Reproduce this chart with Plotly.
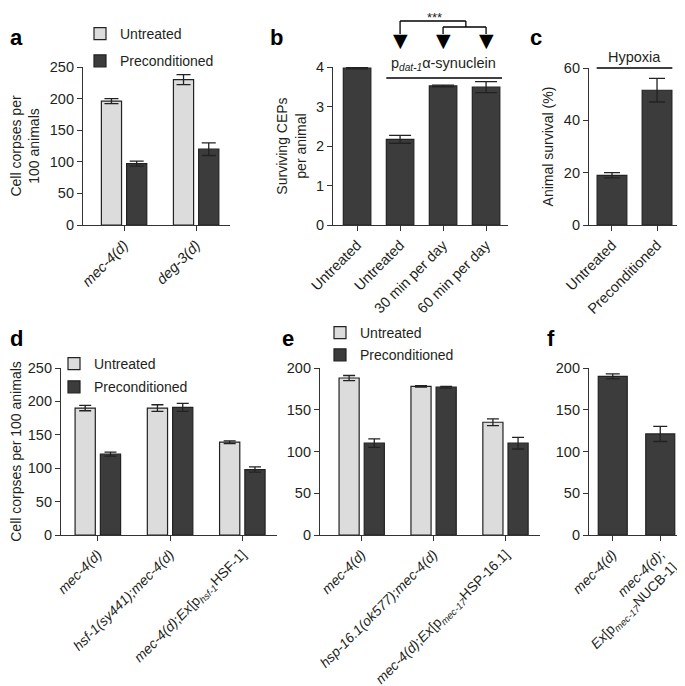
import plotly.graph_objects as go

# ==============================================================================
# DATA
# ==============================================================================
a_groups = ["mec-4(d)", "deg-3(d)"]
a_labels = ["<i>mec-4(d)</i>", "<i>deg-3(d)</i>"]
a_untreated = [196, 230]
a_untreated_err = [4, 8]
a_precond = [97, 120]
a_precond_err = [4, 10]

b_groups = ["Untreated", "Untreated syn", "30 min", "60 min"]
b_labels = ["Untreated", "Untreated", "30 min per day", "60 min per day"]
b_values = [3.97, 2.17, 3.52, 3.49]
b_err = [0.02, 0.1, 0.02, 0.14]

c_groups = ["Untreated", "Preconditioned"]
c_values = [19, 51.5]
c_err = [1, 4.5]

d_groups = ["mec-4", "hsf-1", "hsf-1 rescue"]
d_labels = ["<i>mec-4(d)</i>", "<i>hsf-1(sy441);mec-4(d)</i>",
            "<i>mec-4(d)</i>;<i>Ex</i>[p<sub><i>hsf-1</i></sub>HSF-1]"]
d_untreated = [190, 190, 139]
d_untreated_err = [4, 5, 2]
d_precond = [121, 191, 98]
d_precond_err = [3, 6, 4]

e_groups = ["mec-4", "hsp-16.1", "hsp-16.1 rescue"]
e_labels = ["<i>mec-4(d)</i>", "<i>hsp-16.1(ok577);mec-4(d)</i>",
            "<i>mec-4(d)</i>;<i>Ex</i>[p<sub><i>mec-17</i></sub>HSP-16.1]"]
e_untreated = [188, 178, 135]
e_untreated_err = [3, 1, 4]
e_precond = [110, 177, 110]
e_precond_err = [5, 1, 7]

f_groups = ["mec-4", "nucb-1"]
f_labels = ["<i>mec-4(d)</i>", "<i>mec-4(d)</i>;<br><i>Ex</i>[p<sub><i>mec-17</i></sub>NUCB-1]"]
f_values = [190, 121]
f_err = [3, 9]

# ==============================================================================
# STYLE
# ==============================================================================
# page body has an 8px margin, so the figure is a bit smaller than the window
OFF = 8
W, H = 685 - OFF, 686 - OFF
FONT = "Liberation Sans, Arial, sans-serif"
TXT = "#231f20"
LIGHT = "#dcdcdc"
DARK = "#3c3c3c"
EDGE = "#222222"


def px(x):
    # window pixel -> paper fraction
    return (x - OFF) / W


def py(y):
    return 1 - (y - OFF) / H


def err(arr, w=6):
    return dict(type="data", array=arr, color=EDGE, thickness=1.3, width=w)


fig = go.Figure()

# A. grouped bar panels (a, d, e)
grouped = [
    ("x", "y", a_groups, a_untreated, a_untreated_err, a_precond, a_precond_err, "legend", 7),
    ("x4", "y4", d_groups, d_untreated, d_untreated_err, d_precond, d_precond_err, "legend2", 6),
    ("x5", "y5", e_groups, e_untreated, e_untreated_err, e_precond, e_precond_err, "legend3", 6),
]
for xa, ya, cats, unt, unt_e, pre, pre_e, leg, cw in grouped:
    fig.add_trace(go.Bar(
        x=cats, y=unt, name="Untreated", xaxis=xa, yaxis=ya,
        marker=dict(color=LIGHT, line=dict(color=EDGE, width=1.2)),
        error_y=err(unt_e, cw), legend=leg, legendgroup=leg + "u",
    ))
    fig.add_trace(go.Bar(
        x=cats, y=pre, name="Preconditioned", xaxis=xa, yaxis=ya,
        marker=dict(color=DARK, line=dict(color=EDGE, width=1.2)),
        error_y=err(pre_e, cw), legend=leg, legendgroup=leg + "p",
    ))

# B. single series panels (b, c, f)
singles = [
    ("x2", "y2", b_groups, b_values, b_err, 0.64, 11),
    ("x3", "y3", c_groups, c_values, c_err, 0.66, 8),
    ("x6", "y6", f_groups, f_values, f_err, 0.61, 7),
]
for xa, ya, cats, vals, e, wdt, cw in singles:
    fig.add_trace(go.Bar(
        x=cats, y=vals, xaxis=xa, yaxis=ya, width=wdt,
        marker=dict(color=DARK, line=dict(color=EDGE, width=1.2)),
        error_y=err(e, cw), showlegend=False,
    ))

# ==============================================================================
# AXES
# ==============================================================================
axis_common = dict(showline=True, linecolor="#333", linewidth=1.2, ticks="outside",
                   ticklen=5, tickcolor="#333", tickwidth=1.2, showgrid=False,
                   zeroline=False, automargin=False,
                   tickfont=dict(size=14.5, color=TXT, family=FONT))

panels = {
    # name: (x domain px, y domain px, xrange, yrange, dtick, cats, labels, ytitle, xfont)
    "1": ((83, 230), (67, 225), [-0.57, 1.47], [0, 250], 50, a_groups, a_labels,
          "Cell corpses per<br>100 animals", 14.5),
    "2": ((333, 508), (67, 225), [-0.56, 3.51], [0, 4], 1, b_groups, b_labels,
          "Surviving CEPs<br>per animal", 14.5),
    "3": ((589, 680), (68, 225), [-0.51, 1.51], [0, 60], 20, c_groups, c_groups,
          "Animal survival (%)", 14.5),
    "4": ((61, 277), (368, 535), [-0.51, 2.48], [0, 250], 50, d_groups, d_labels,
          "Cell corpses per 100 animals", 13.8),
    "5": ((320, 540), (368, 535), [-0.58, 2.48], [0, 200], 50, e_groups, e_labels, None, 13.8),
    "6": ((589, 684), (368, 535), [-0.5, 1.5], [0, 200], 50, f_groups, f_labels, None, 13.8),
}

layout_axes = {}
for k, (xd, yd, xr, yr, dt, cats, labels, ytitle, xfs) in panels.items():
    sfx = "" if k == "1" else k
    xid = "x" + sfx
    yid = "y" + sfx
    layout_axes["xaxis" + sfx] = dict(
        axis_common, domain=[px(xd[0]), px(xd[1])], anchor=yid, range=xr,
        type="category", tickvals=cats, ticktext=labels, tickangle=-45,
        tickfont=dict(size=xfs, color=TXT, family=FONT),
    )
    ya = dict(axis_common, domain=[py(yd[1]), py(yd[0])], anchor=xid, range=yr,
              dtick=dt, tick0=0)
    if ytitle:
        ya["title"] = dict(text=ytitle, font=dict(size=14, color=TXT, family=FONT), standoff=6)
    layout_axes["yaxis" + sfx] = ya

fig.update_layout(**layout_axes)

# ==============================================================================
# ANNOTATIONS & SHAPES
# ==============================================================================
annotations = []
for letter, x, y in [("a", 8, 38), ("b", 268, 38), ("c", 528, 38),
                     ("d", 8, 338), ("e", 280, 338), ("f", 545, 338)]:
    annotations.append(dict(text=f"<b>{letter}</b>", x=px(x), y=py(y), xref="paper",
                            yref="paper", xanchor="left", yanchor="middle", showarrow=False,
                            font=dict(size=22, color="black", family=FONT)))

# panel b: significance bracket with down arrows
for i in [1, 2, 3]:
    annotations.append(dict(text="▼", x=i, y=py(40), xref="x2", yref="paper",
                            xanchor="center", yanchor="middle", showarrow=False,
                            font=dict(size=19, color="black", family="DejaVu Sans")))
annotations.append(dict(text="***", x=1.8, y=1, xref="x2", yref="paper",
                        xanchor="center", yanchor="top", showarrow=False,
                        font=dict(size=13, color=TXT, family=FONT)))
annotations.append(dict(text="p<sub><i>dat-1</i></sub>α-synuclein", x=2.0, y=py(64),
                        xref="x2", yref="paper", xanchor="center", yanchor="middle",
                        showarrow=False, font=dict(size=14.5, color=TXT, family=FONT)))
annotations.append(dict(text="Hypoxia", x=0.5, y=py(57), xref="x3", yref="paper",
                        xanchor="center", yanchor="middle", showarrow=False,
                        font=dict(size=14.5, color=TXT, family=FONT)))

line_style = dict(color="black", width=1.3)
shapes = [
    dict(type="line", xref="x2", yref="paper", x0=1, x1=1, y0=py(21), y1=py(34), line=line_style),
    dict(type="line", xref="x2", yref="paper", x0=1, x1=2.53, y0=py(21), y1=py(21), line=line_style),
    dict(type="line", xref="x2", yref="paper", x0=2.53, x1=2.53, y0=py(21), y1=py(27), line=line_style),
    dict(type="line", xref="x2", yref="paper", x0=2, x1=3, y0=py(27), y1=py(27), line=line_style),
    dict(type="line", xref="x2", yref="paper", x0=2, x1=2, y0=py(27), y1=py(34), line=line_style),
    dict(type="line", xref="x2", yref="paper", x0=3, x1=3, y0=py(27), y1=py(34), line=line_style),
    dict(type="line", xref="x2", yref="paper", x0=0.68, x1=3.37, y0=py(78), y1=py(78), line=line_style),
    dict(type="line", xref="x3", yref="paper", x0=-0.34, x1=1.34, y0=py(68), y1=py(68), line=line_style),
]

leg_font = dict(size=14, color=TXT, family=FONT)
fig.update_layout(
    width=W, height=H, autosize=False,
    margin=dict(l=0, r=0, t=0, b=0, autoexpand=False),
    plot_bgcolor="white", paper_bgcolor="white",
    font=dict(family=FONT, color=TXT),
    barmode="group", bargap=0.3, bargroupgap=0.2,
    annotations=annotations, shapes=shapes,
    legend=dict(x=px(80), y=py(18), xanchor="left", yanchor="top", font=leg_font,
                tracegroupgap=6, bgcolor="rgba(0,0,0,0)"),
    legend2=dict(x=px(54), y=py(348), xanchor="left", yanchor="top", font=leg_font,
                 tracegroupgap=2, bgcolor="rgba(0,0,0,0)"),
    legend3=dict(x=px(320), y=py(317), xanchor="left", yanchor="top", font=leg_font,
                 tracegroupgap=1, bgcolor="rgba(0,0,0,0)"),
)

fig.write_html("out.html")
